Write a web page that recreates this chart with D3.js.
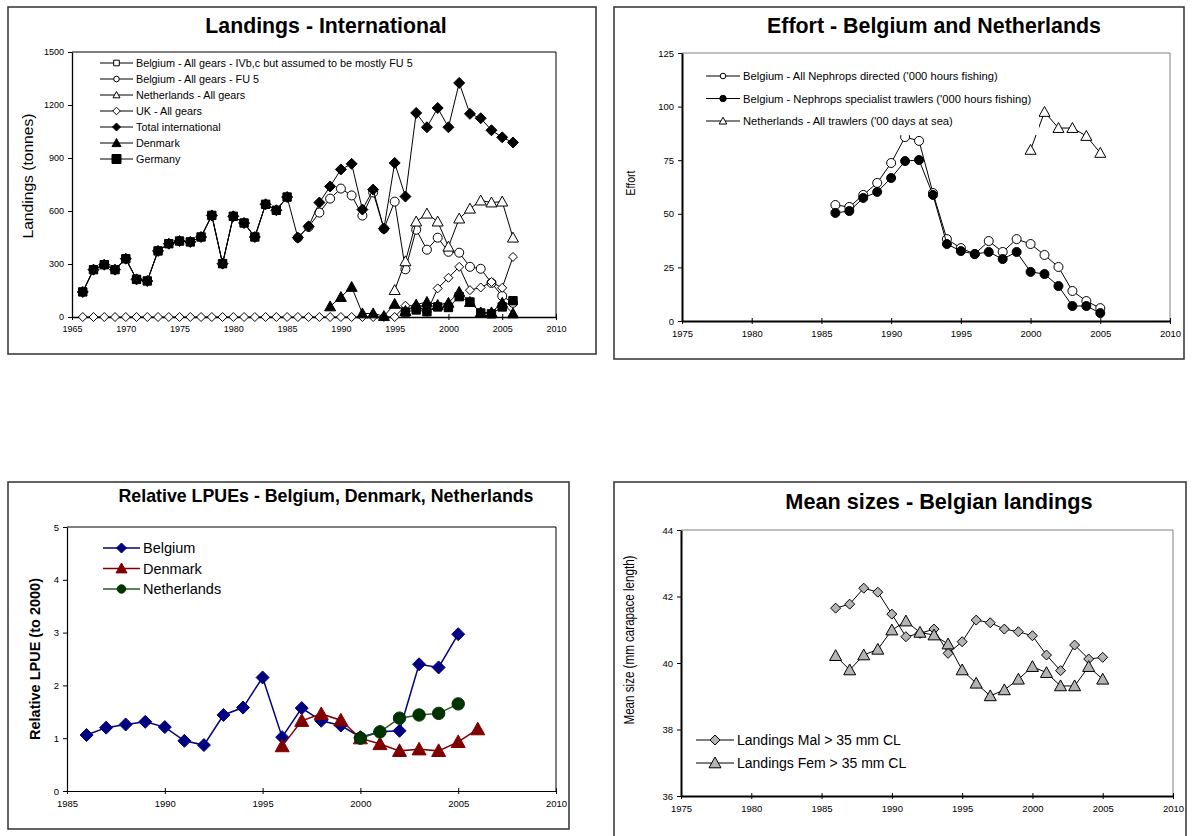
<!DOCTYPE html>
<html>
<head>
<meta charset="utf-8">
<script src="https://cdn.jsdelivr.net/npm/d3@7"></script>
<style>
  body { margin: 0; background: #fff; }
  svg  { display: block; font-family: 'Liberation Sans', Arial, sans-serif; }
</style>
</head>
<body>
<svg id="chart" width="1195" height="836"></svg>
<script>
'use strict';

/* ── data: landings (tonnes) ─────────────── */
const landYears = [1966,1967,1968,1969,1970,1971,1972,1973,1974,1975,1976,1977,1978,1979,1980,
  1981,1982,1983,1984,1985,1986,1987,1988,1989,1990,1991,1992,1993,1994,1995,1996,1997,1998,1999,
  2000,2001,2002,2003,2004,2005,2006];
const _ = null;
const landBelIVbc = [142,268,296,268,330,213,204,374,415,430,425,453,575,302,570,532,453,638,604,679,
  _,_,_,_,_,_,_,_,_,_,_,_,_,_,_,_,_,_,_,_,_];
const landBelFU5  = [_,_,_,_,_,_,_,_,_,_,_,_,_,_,_,_,_,_,_,_,
  449,510,591,670,727,688,574,705,500,653,270,494,381,449,369,364,284,273,193,119,80];
const landNL      = [_,_,_,_,_,_,_,_,_,_,_,_,_,_,_,_,_,_,_,_,_,_,_,_,_,_,_,_,_,
  152,315,540,585,540,398,557,613,659,648,653,449];
const landUK      = [0,0,0,0,0,0,0,0,0,0,0,0,0,0,0,0,0,0,0,0,0,0,0,0,0,0,0,0,0,0,
  64,64,28,162,222,284,152,167,198,165,340];
const landTotal   = [142,268,296,268,330,213,204,374,415,430,425,453,575,302,570,532,453,638,604,679,
  449,513,648,739,835,867,608,721,500,872,682,1155,1074,1183,1074,1325,1150,1125,1057,1017,988];
const landDK      = [_,_,_,_,_,_,_,_,_,_,_,_,_,_,_,_,_,_,_,_,_,_,_,
  60,113,170,20,20,5,74,34,70,85,68,80,142,85,26,26,80,20];
const landDE      = [142,268,296,268,330,213,204,374,415,430,425,453,575,302,570,532,453,638,604,679,
  _,_,_,_,_,_,_,_,_,_,28,40,30,57,54,115,85,23,18,57,92];

/* ── data: effort ────────────────────────── */
const effYears  = [1986,1987,1988,1989,1990,1991,1992,1993,1994,1995,1996,1997,1998,1999,2000,2001,2002,2003,2004,2005];
const effBelAll = [54.1,53.2,58.8,64.4,73.7,85.8,84.0,59.7,38.2,34.0,31.2,37.3,32.2,38.2,35.9,30.8,25.2,14.0,9.3,6.0];
const effBelSpc = [50.4,51.3,57.4,60.2,66.7,74.6,75.1,58.8,35.9,32.6,31.2,32.2,28.9,32.2,22.9,21.9,16.3,7.0,7.0,3.7];
const effNLYears = [2000,2001,2002,2003,2004,2005];
const effNL      = [79.8,97.5,90.0,90.0,86.3,78.4];

/* ── data: relative LPUE ─────────────────── */
const lpueBelYears = [1986,1987,1988,1989,1990,1991,1992,1993,1994,1995,1996,1997,1998,1999,2000,2001,2002,2003,2004,2005];
const lpueBel      = [1.06,1.20,1.26,1.31,1.21,0.95,0.87,1.44,1.58,2.15,1.02,1.57,1.33,1.24,1.02,1.12,1.14,2.40,2.34,2.97];
const lpueDKYears  = [1996,1997,1998,1999,2000,2001,2002,2003,2004,2005,2006];
const lpueDK       = [0.85,1.33,1.46,1.34,1.00,0.89,0.76,0.79,0.76,0.93,1.17];
const lpueNLYears  = [2000,2001,2002,2003,2004,2005];
const lpueNL       = [1.00,1.12,1.38,1.44,1.47,1.65];

/* ── data: mean sizes ────────────────────── */
const sizeYears = [1986,1987,1988,1989,1990,1991,1992,1993,1994,1995,1996,1997,1998,1999,2000,2001,2002,2003,2004,2005];
const sizeMal   = [41.65,41.77,42.25,42.13,41.47,40.79,40.89,41.02,40.29,40.64,41.29,41.21,41.02,40.94,40.82,40.24,39.77,40.54,40.12,40.17];
const sizeFem   = [40.22,39.79,40.24,40.41,40.99,41.26,40.92,40.84,40.57,39.79,39.39,39.01,39.19,39.51,39.89,39.71,39.31,39.31,39.89,39.51];

/* ── helpers ─────────────────────────────── */
const svg = d3.select('#chart');

const shapes = {
  square:   s => `M${-s},${-s}H${s}V${s}H${-s}Z`,
  diamond:  s => `M0,${-s}L${s},0L0,${s}L${-s},0Z`,
  triangle: s => `M0,${-s}L${s},${s*0.8}L${-s},${s*0.8}Z`,
  circle:   s => `M${s},0A${s},${s} 0 1,1 ${-s},0A${s},${s} 0 1,1 ${s},0Z`,
};

function marker(g, sr, cx, cy, size) {
  g.append('path')
    .attr('d', shapes[sr.shape](size))
    .attr('transform', `translate(${cx},${cy})`)
    .attr('fill', sr.fill)
    .attr('stroke', sr.stroke)
    .attr('stroke-width', sr.sw || 1);
}

function drawPanel(p) {
  const g = svg.append('g');
  const P = p.plot;

  // outer frame
  g.append('rect')
    .attr('x', p.frame[0]).attr('y', p.frame[1])
    .attr('width', p.frame[2] - p.frame[0]).attr('height', p.frame[3] - p.frame[1])
    .attr('fill', '#fff').attr('stroke', '#3c3c3c').attr('stroke-width', 1.6);

  const x = d3.scaleLinear().domain(p.xDomain).range([P.left, P.right]);
  const y = d3.scaleLinear().domain(p.yDomain).range([P.bottom, P.top]);

  // plot box (top + right)
  g.append('path')
    .attr('d', `M${P.left},${P.top}H${P.right}V${P.bottom}`)
    .attr('fill', 'none').attr('stroke', p.boxColor).attr('stroke-width', 1);

  // title
  g.append('text')
    .attr('x', p.title.x).attr('y', p.title.y)
    .attr('text-anchor', 'middle')
    .attr('font-size', p.title.size).attr('font-weight', 'bold')
    .text(p.title.text);

  // y label (length forced to match the squeezed original)
  const yl = g.append('text')
    .attr('transform', `translate(${p.ylab.x},${p.ylab.y}) rotate(-90)`)
    .attr('text-anchor', 'middle').attr('dominant-baseline', 'central')
    .attr('font-size', p.ylab.size).attr('font-weight', p.ylab.bold ? 'bold' : 'normal')
    .text(p.ylab.text);
  if (p.ylab.len) yl.attr('textLength', p.ylab.len).attr('lengthAdjust', 'spacingAndGlyphs');

  // axes
  const xa = g.append('g').attr('transform', `translate(0,${P.bottom})`)
    .call(d3.axisBottom(x).tickValues(p.xTicks).tickFormat(d3.format('d'))
      .tickSizeInner(3).tickSizeOuter(0).tickPadding(6));
  xa.selectAll('.tick line').attr('y1', -3).attr('y2', 3);
  const ya = g.append('g').attr('transform', `translate(${P.left},0)`)
    .call(d3.axisLeft(y).tickValues(p.yTicks).tickFormat(d3.format('d'))
      .tickSizeInner(4).tickSizeOuter(0).tickPadding(4));
  [xa, ya].forEach(a => {
    a.select('.domain').attr('stroke', '#000').attr('stroke-width', p.axisWidth);
    a.selectAll('.tick line').attr('stroke', '#000');
    a.selectAll('.tick text').attr('font-size', p.tickSize).attr('fill', '#000')
      .attr('font-family', "'Liberation Sans', Arial, sans-serif");
  });

  // series
  p.series.forEach(sr => {
    const pts = sr.years.map((yr, i) => ({ x: yr, v: sr.values[i] }));
    const line = d3.line().defined(d => d.v != null).x(d => x(d.x)).y(d => y(d.v));
    g.append('path').attr('d', line(pts))
      .attr('fill', 'none').attr('stroke', sr.line).attr('stroke-width', sr.lw || 1);
    pts.filter(d => d.v != null).forEach(d => marker(g, sr, x(d.x), y(d.v), sr.size));
  });

  // legend (white box hides what runs beneath it, as in the original)
  const L = p.legend;
  if (L.bg) {
    g.append('rect').attr('x', L.bg[0]).attr('y', L.bg[1])
      .attr('width', L.bg[2] - L.bg[0]).attr('height', L.bg[3] - L.bg[1]).attr('fill', '#fff');
  }
  p.series.forEach((sr, i) => {
    const ly = L.y0 + i * L.dy;
    g.append('line').attr('x1', L.x0).attr('x2', L.x1).attr('y1', ly).attr('y2', ly)
      .attr('stroke', sr.line).attr('stroke-width', sr.lw || 1);
    marker(g, sr, (L.x0 + L.x1) / 2, ly, sr.lsize || sr.size);
    g.append('text').attr('x', L.x1 + 3).attr('y', ly).attr('dominant-baseline', 'central')
      .attr('font-size', L.size).text(sr.name);
  });
}

/* ── panel 1: landings ───────────────────── */
drawPanel({
  frame: [8, 7, 596, 354],
  plot: { left: 72, right: 556, top: 52, bottom: 317 },
  xDomain: [1965, 2010], yDomain: [0, 1500],
  xTicks: [1965,1970,1975,1980,1985,1990,1995,2000,2005,2010],
  yTicks: [0,300,600,900,1200,1500],
  boxColor: '#000', axisWidth: 1.3, tickSize: '9px',
  title: { text: 'Landings - International', x: 326, y: 33, size: '21.3px' },
  ylab:  { text: 'Landings (tonnes)', x: 27, y: 176, size: '15px', len: 125 },
  legend: { x0: 100, x1: 133, y0: 63, dy: 16, size: '10.8px' },
  series: [
    { name: 'Belgium - All gears - IVb,c but assumed to be mostly FU 5', years: landYears, values: landBelIVbc,
      shape: 'square', size: 3.5, lsize: 2.8, fill: '#fff', stroke: '#000', line: '#000' },
    { name: 'Belgium - All gears - FU 5', years: landYears, values: landBelFU5,
      shape: 'circle', size: 4.5, lsize: 2.8, fill: '#fff', stroke: '#000', line: '#000' },
    { name: 'Netherlands - All gears', years: landYears, values: landNL,
      shape: 'triangle', size: 5.5, lsize: 3.5, fill: '#fff', stroke: '#000', line: '#000' },
    { name: 'UK - All gears', years: landYears, values: landUK,
      shape: 'diamond', size: 4.5, lsize: 3.8, fill: '#fff', stroke: '#000', line: '#000' },
    { name: 'Total international', years: landYears, values: landTotal,
      shape: 'diamond', size: 5.5, lsize: 4, fill: '#000', stroke: '#000', line: '#000' },
    { name: 'Denmark', years: landYears, values: landDK,
      shape: 'triangle', size: 5.5, lsize: 4.5, fill: '#000', stroke: '#000', line: '#000' },
    { name: 'Germany', years: landYears, values: landDE,
      shape: 'square', size: 4.2, lsize: 4.5, fill: '#000', stroke: '#000', line: '#000' },
  ],
});

/* ── panel 2: effort ─────────────────────── */
drawPanel({
  frame: [614, 7, 1184, 359],
  plot: { left: 682, right: 1170, top: 53, bottom: 321 },
  xDomain: [1975, 2010], yDomain: [0, 125],
  xTicks: [1975,1980,1985,1990,1995,2000,2005,2010],
  yTicks: [0,25,50,75,100,125],
  boxColor: '#808080', axisWidth: 2, tickSize: '9.5px',
  title: { text: 'Effort - Belgium and Netherlands', x: 934, y: 33, size: '21.4px' },
  ylab:  { text: 'Effort', x: 630, y: 183, size: '13px', len: 25 },
  legend: { x0: 706, x1: 740, y0: 76, dy: 22.5, size: '11.2px', bg: [700, 62, 1039, 135] },
  series: [
    { name: "Belgium - All Nephrops directed ('000 hours fishing)", years: effYears, values: effBelAll,
      shape: 'circle', size: 4.5, lsize: 2.8, fill: '#fff', stroke: '#000', line: '#000' },
    { name: "Belgium - Nephrops specialist trawlers ('000 hours fishing)", years: effYears, values: effBelSpc,
      shape: 'circle', size: 4.5, lsize: 3.2, fill: '#000', stroke: '#000', line: '#000' },
    { name: "Netherlands - All trawlers ('00 days at sea)", years: effNLYears, values: effNL,
      shape: 'triangle', size: 5.5, lsize: 3.8, fill: '#fff', stroke: '#000', line: '#000' },
  ],
});

/* ── panel 3: relative LPUE ──────────────── */
drawPanel({
  frame: [8, 482, 569, 829],
  plot: { left: 67, right: 556, top: 527, bottom: 791 },
  xDomain: [1985, 2010], yDomain: [0, 5],
  xTicks: [1985,1990,1995,2000,2005,2010],
  yTicks: [0,1,2,3,4,5],
  boxColor: '#000', axisWidth: 1.2, tickSize: '9.5px',
  title: { text: 'Relative LPUEs - Belgium, Denmark, Netherlands', x: 326, y: 502, size: '17.8px' },
  ylab:  { text: 'Relative LPUE (to 2000)', x: 35, y: 659, size: '14px', bold: true, len: 162 },
  legend: { x0: 103, x1: 140, y0: 548, dy: 20.5, size: '14.5px' },
  series: [
    { name: 'Belgium', years: lpueBelYears, values: lpueBel,
      shape: 'diamond', size: 6.5, lsize: 5, fill: '#000080', stroke: '#000080', line: '#000080', lw: 1.5 },
    { name: 'Denmark', years: lpueDKYears, values: lpueDK,
      shape: 'triangle', size: 7, lsize: 5.5, fill: '#800000', stroke: '#800000', line: '#800000', lw: 1.5 },
    { name: 'Netherlands', years: lpueNLYears, values: lpueNL,
      shape: 'circle', size: 6.2, lsize: 4.2, fill: '#003300', stroke: '#003300', line: '#1f5a1f', lw: 1.5 },
  ],
});

/* ── panel 4: mean sizes ─────────────────── */
drawPanel({
  frame: [614, 482, 1186, 845],
  plot: { left: 681, right: 1173, top: 530, bottom: 796 },
  xDomain: [1975, 2010], yDomain: [36, 44],
  xTicks: [1975,1980,1985,1990,1995,2000,2005,2010],
  yTicks: [36,38,40,42,44],
  boxColor: '#808080', axisWidth: 2, tickSize: '9.5px',
  title: { text: 'Mean sizes - Belgian landings', x: 939, y: 509, size: '21.7px' },
  ylab:  { text: 'Mean size (mm carapace length)', x: 629, y: 640, size: '14px', len: 169 },
  legend: { x0: 696, x1: 734, y0: 740, dy: 23, size: '14px' },
  series: [
    { name: 'Landings Mal > 35 mm CL', years: sizeYears, values: sizeMal,
      shape: 'diamond', size: 5, fill: '#b4b4b4', stroke: '#000', line: '#000' },
    { name: 'Landings Fem > 35 mm CL', years: sizeYears, values: sizeFem,
      shape: 'triangle', size: 6, fill: '#b4b4b4', stroke: '#000', line: '#000' },
  ],
});
</script>
</body>
</html>
